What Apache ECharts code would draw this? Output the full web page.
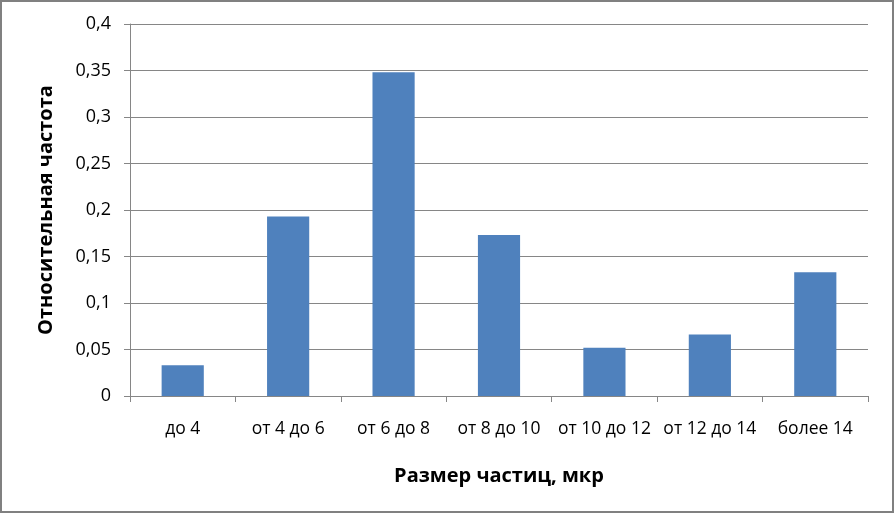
<!DOCTYPE html>
<html><head><meta charset="utf-8">
<script src="https://cdn.jsdelivr.net/npm/echarts@6/dist/echarts.min.js"></script>
<style>html,body{margin:0;padding:0;background:#fff}#c{width:894px;height:513px}</style>
</head><body><div id="c"></div>
<script>
const categories = ['до 4','от 4 до 6','от 6 до 8','от 8 до 10','от 10 до 12','от 12 до 14','более 14'];
const values = [0.033, 0.193, 0.348, 0.173, 0.052, 0.066, 0.133];
const xTitle = 'Размер частиц, мкр';
const yTitle = 'Относительная частота';

const chart = echarts.init(document.getElementById('c'), null, {renderer:'canvas'});
const font = '"Open Sans", "Noto Sans", sans-serif';
chart.setOption({
  animation:false,
  graphic:[{type:'rect', shape:{x:1,y:1,width:892,height:511}, style:{fill:'none', stroke:'#808080', lineWidth:2}, z:100}],
  grid:{left:130, right:26, top:24, bottom:117},
  xAxis:{
    type:'category', data:categories,
    axisLine:{lineStyle:{color:'#868686', width:1}},
    axisTick:{show:true, length:6, lineStyle:{color:'#868686'}},
    axisLabel:{color:'#000', fontSize:17.5, fontFamily:font, margin:24, interval:0, hideOverlap:false},
    name:xTitle, nameLocation:'middle', nameGap:70,
    nameTextStyle:{color:'#000', fontSize:20, fontWeight:'bold', fontFamily:font}
  },
  yAxis:{
    type:'value', min:0, max:0.4, interval:0.05,
    axisLine:{show:true, lineStyle:{color:'#868686', width:1}},
    axisTick:{show:true, length:6, lineStyle:{color:'#868686'}},
    splitLine:{show:true, lineStyle:{color:'#868686', width:1}},
    axisLabel:{color:'#000', fontSize:18, fontFamily:font, margin:19,
      formatter:v=>String(Math.round(v*100)/100).replace('.', ',')},
    name:yTitle, nameLocation:'middle', nameGap:74, nameRotate:90,
    nameTextStyle:{color:'#000', fontSize:20, fontWeight:'bold', fontFamily:font}
  },
  series:[{type:'bar', data:values, barCategoryGap:'60%', itemStyle:{color:'#4F81BD'}}]
});
</script></body></html>
